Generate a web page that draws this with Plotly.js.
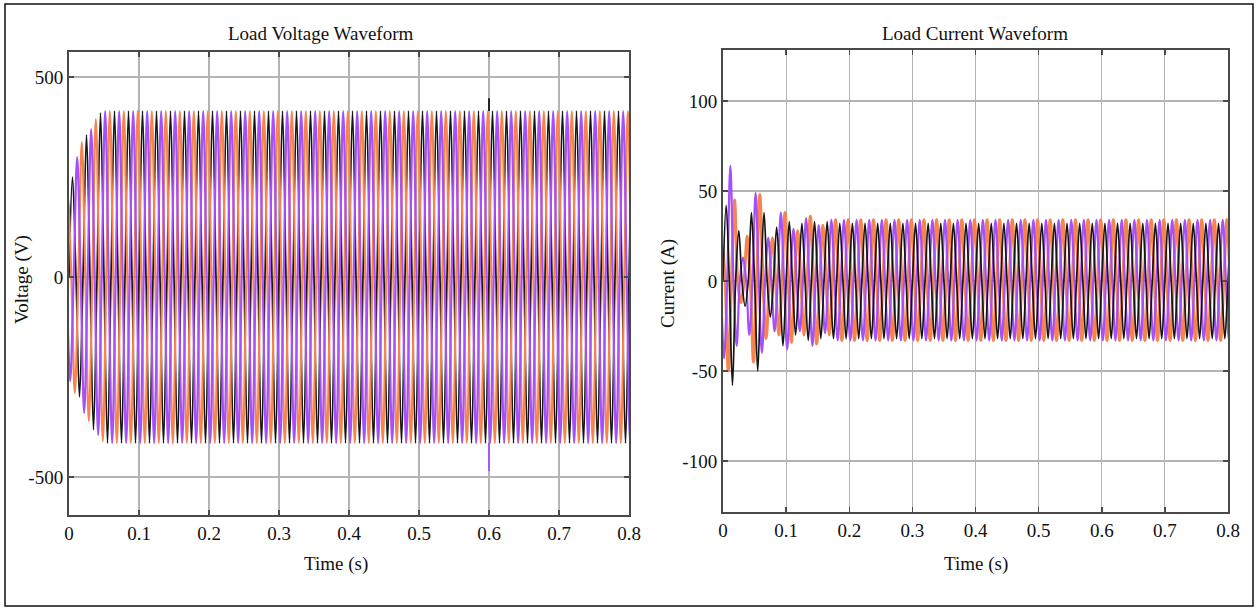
<!DOCTYPE html>
<html>
<head>
<meta charset="utf-8">
<script src="https://cdn.plot.ly/plotly-3.0.1.min.js"></script>
<style>
html,body{margin:0;padding:0;background:#fff;}
#chart{width:1256px;height:610px;}
</style>
</head>
<body>
<div id="chart"></div>
<script>
// ---------------- DATA ----------------
// 50 Hz three-phase waveforms; each array holds the peak magnitude of every
// successive half-cycle of one phase (10 ms per half-cycle).
const halfCycle = 0.01;                       // s
const phaseNames = ['Phase A', 'Phase C', 'Phase B'];
const phaseStartTimes = [0, -0.00667, -0.00333]; // first zero crossing of each phase (s)
const phaseFirstSign = [1, 1, -1];            // sign of the first half-cycle

const timeTicks = [0, 0.1, 0.2, 0.3, 0.4, 0.5, 0.6, 0.7, 0.8];
const timeTickLabels = ['0', '0.1', '0.2', '0.3', '0.4', '0.5', '0.6', '0.7', '0.8'];
const voltageTicks = [-500, 0, 500];
const currentTicks = [-100, -50, 0, 50, 100];

// Load voltage (V), peak per half-cycle
const voltagePeaksA = [250, 300, 355, 382, 410, 415, 415, 415, 415, 415,
  415, 415, 415, 415, 415, 415, 415, 415, 415, 415,
  415, 415, 415, 415, 415, 415, 415, 415, 415, 415,
  415, 415, 415, 415, 415, 415, 415, 415, 415, 415,
  415, 415, 415, 415, 415, 415, 415, 415, 415, 415,
  415, 415, 415, 415, 415, 415, 415, 415, 415, 415,
  415, 415, 415, 415, 415, 415, 415, 415, 415, 415,
  415, 415, 415, 415, 415, 415, 415, 415, 415, 415,
  415, 415];
const voltagePeaksC = [200, 290, 337, 360, 395, 410, 415, 415, 415, 415,
  416, 415, 415, 415, 415, 416, 415, 415, 415, 415,
  415, 415, 415, 415, 415, 415, 415, 415, 415, 415,
  415, 415, 415, 415, 415, 415, 415, 415, 415, 415,
  415, 415, 415, 415, 415, 415, 415, 415, 415, 415,
  415, 415, 415, 415, 415, 415, 415, 415, 415, 415,
  415, 415, 415, 415, 415, 415, 415, 415, 415, 415,
  415, 415, 415, 415, 415, 415, 415, 415, 415, 415,
  415, 415];
const voltagePeaksB = [260, 300, 340, 370, 395, 415, 415, 415, 415, 415,
  415, 415, 415, 415, 415, 415, 415, 415, 415, 415,
  415, 415, 415, 415, 415, 415, 415, 415, 415, 415,
  415, 415, 415, 415, 415, 415, 415, 415, 415, 415,
  415, 415, 415, 415, 415, 415, 415, 415, 415, 415,
  415, 415, 415, 415, 415, 415, 415, 415, 415, 415,
  415, 415, 415, 415, 415, 415, 415, 415, 415, 415,
  415, 415, 415, 415, 415, 415, 415, 415, 415, 415,
  415, 415];
// short disturbance at t = 0.6 s
const voltageSpikeTimes = [0.6];
const voltageSpikeHighA = [447];
const voltageSpikeLowB = [-485];

// Load current (A), peak per half-cycle
const currentPeaksA = [42, 58, 28, 14, 38, 50, 38, 20, 30, 36,
  33, 30, 32, 33, 33, 32, 33, 32, 32, 32,
  32, 32, 32, 32, 32, 32, 32, 32, 32, 32,
  32, 32, 32, 32, 32, 32, 32, 32, 32, 32,
  32, 32, 32, 32, 32, 32, 32, 32, 32, 32,
  32, 32, 32, 32, 32, 32, 32, 32, 32, 32,
  32, 32, 32, 32, 32, 32, 32, 32, 32, 32,
  32, 32, 32, 32, 32, 32, 32, 32, 32, 32,
  32, 32];
const currentPeaksC = [20, 50, 45, 12, 25, 45, 48, 32, 24, 30,
  38, 34, 28, 30, 36, 35, 31, 30, 34, 33,
  34, 33, 34, 33, 34, 33, 34, 33, 34, 33,
  34, 33, 34, 33, 34, 33, 34, 33, 34, 33,
  34, 33, 34, 33, 34, 33, 34, 33, 34, 33,
  34, 33, 34, 33, 34, 33, 34, 33, 34, 33,
  34, 33, 34, 33, 34, 33, 34, 33, 34, 33,
  34, 33, 34, 33, 34, 33, 34, 33, 34, 33,
  34, 33];
const currentPeaksB = [43, 64, 36, 13, 30, 49, 40, 24, 28, 38,
  38, 29, 28, 35, 36, 31, 29, 34, 33, 34,
  33, 34, 33, 34, 33, 34, 33, 34, 33, 34,
  33, 34, 33, 34, 33, 34, 33, 34, 33, 34,
  33, 34, 33, 34, 33, 34, 33, 34, 33, 34,
  33, 34, 33, 34, 33, 34, 33, 34, 33, 34,
  33, 34, 33, 34, 33, 34, 33, 34, 33, 34,
  33, 34, 33, 34, 33, 34, 33, 34, 33, 34,
  33, 34];

// ---------------- STYLE ----------------
const phaseColors = ['#151515', '#F7844F', '#A650FA'];   // A black, C orange, B purple
const voltageWidths = [1.7, 2.2, 2.2];
const currentWidths = [3.0, 2.2, 1.7];                  // drawn order C, B, A
const font = 'Liberation Serif, Times New Roman, serif';

// Build a half-cycle table (zero crossings + peaks) for the library's spline
function waveTable(t0, sign0, peaks) {
  const x = [], y = [];
  let s = sign0;
  for (let k = 0; k < peaks.length; k++) {
    x.push(t0 + k * halfCycle); y.push(0);
    x.push(t0 + (k + 0.5) * halfCycle); y.push(s * peaks[k]);
    s = -s;
  }
  x.push(t0 + peaks.length * halfCycle); y.push(0);
  return {x, y};
}

const traces = [];
// voltage: black first, then orange, purple on top
[voltagePeaksA, voltagePeaksC, voltagePeaksB].forEach((p, i) => {
  const w = waveTable(phaseStartTimes[i], phaseFirstSign[i], p);
  traces.push({x: w.x, y: w.y, type: 'scatter', mode: 'lines', name: phaseNames[i],
    line: {color: phaseColors[i], width: voltageWidths[i], shape: 'spline', smoothing: 1},
    xaxis: 'x', yaxis: 'y', hoverinfo: 'skip'});
});
traces.push({x: [voltageSpikeTimes[0], voltageSpikeTimes[0]], y: [voltagePeaksA[60], voltageSpikeHighA[0]],
  type: 'scatter', mode: 'lines', line: {color: phaseColors[0], width: 1.8}, xaxis: 'x', yaxis: 'y', hoverinfo: 'skip'});
traces.push({x: [voltageSpikeTimes[0], voltageSpikeTimes[0]], y: [-voltagePeaksB[60], voltageSpikeLowB[0]],
  type: 'scatter', mode: 'lines', line: {color: phaseColors[2], width: 1.8}, xaxis: 'x', yaxis: 'y', hoverinfo: 'skip'});
// current: orange first, purple, black on top
const currentOrder = [1, 2, 0];
const currentSets = [currentPeaksA, currentPeaksC, currentPeaksB];
currentOrder.forEach((i, j) => {
  const w = waveTable(phaseStartTimes[i], phaseFirstSign[i], currentSets[i]);
  traces.push({x: w.x, y: w.y, type: 'scatter', mode: 'lines', name: phaseNames[i],
    line: {color: phaseColors[i], width: currentWidths[j], shape: 'spline', smoothing: 1},
    xaxis: 'x2', yaxis: 'y2', hoverinfo: 'skip'});
});

const W = 1256, H = 610;
const px = v => v / W, py = v => 1 - v / H;

const axisCommon = {
  showgrid: true, gridcolor: '#b4b4b4', gridwidth: 1.2, zeroline: false,
  showline: true, linecolor: '#4a4a4a', linewidth: 2, mirror: 'ticks',
  ticks: 'inside', ticklen: 5, tickcolor: '#4a4a4a', tickwidth: 1.5,
  tickfont: {family: font, size: 19, color: '#111'}
};

const textFont = {family: font, size: 19, color: '#111'};
function label(text, x, y, angle) {
  return {text: text, x: px(x), y: py(y), xref: 'paper', yref: 'paper', showarrow: false,
    xanchor: 'center', yanchor: 'middle', textangle: angle || 0, font: textFont};
}

const layout = {
  width: W, height: H, showlegend: false,
  paper_bgcolor: '#fff', plot_bgcolor: '#fff',
  margin: {l: 0, r: 0, t: 0, b: 0},
  xaxis: Object.assign({}, axisCommon, {domain: [px(69), px(629)], range: [0, 0.8], anchor: 'y',
    tickvals: timeTicks, ticktext: timeTickLabels, ticklabelstandoff: 0}),
  yaxis: Object.assign({}, axisCommon, {domain: [py(515), py(52)], range: [-595, 562.5], anchor: 'x',
    tickvals: voltageTicks, ticktext: voltageTicks.map(String), ticklabelstandoff: 0}),
  xaxis2: Object.assign({}, axisCommon, {domain: [px(723), px(1228)], range: [0, 0.8], anchor: 'y2',
    tickvals: timeTicks, ticktext: timeTickLabels, ticklabelstandoff: 0}),
  yaxis2: Object.assign({}, axisCommon, {domain: [py(512), py(50)], range: [-128.3, 128.3], anchor: 'x2',
    tickvals: currentTicks, ticktext: currentTicks.map(String), ticklabelstandoff: 0}),
  annotations: [
    label('Load Voltage Waveform', 320, 34),
    label('Load Current Waveform', 975, 34),
    label('Voltage (V)', 22, 280, -90),
    label('Current (A)', 668, 284, -90),
    label('Time (s)', 336, 564),
    label('Time (s)', 976, 564)
  ],
  shapes: [
    {type: 'rect', xref: 'paper', yref: 'paper', x0: px(5), x1: px(1253), y0: py(606), y1: py(4),
      line: {color: '#111', width: 1.5}}
  ]
};

Plotly.newPlot('chart', traces, layout, {staticPlot: true, displayModeBar: false});
</script>
</body>
</html>
